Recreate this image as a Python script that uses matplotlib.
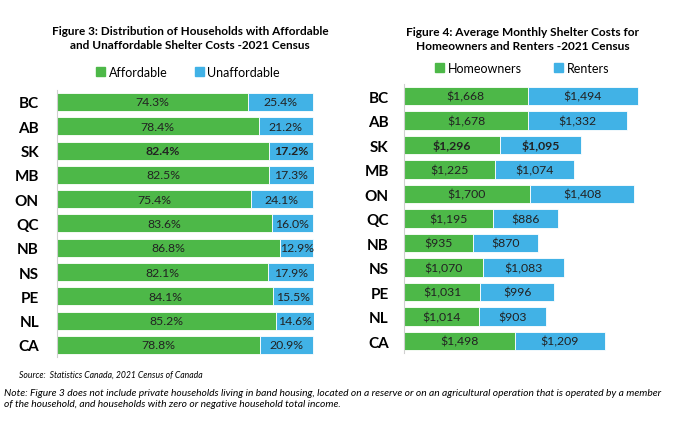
import matplotlib.pyplot as plt
from matplotlib.patches import Patch

plt.rcParams['font.family'] = ['Lato', 'DejaVu Sans']

# Data
regions = ['BC', 'AB', 'SK', 'MB', 'ON', 'QC', 'NB', 'NS', 'PE', 'NL', 'CA']
affordable = [74.3, 78.4, 82.4, 82.5, 75.4, 83.6, 86.8, 82.1, 84.1, 85.2, 78.8]
unaffordable = [25.4, 21.2, 17.2, 17.3, 24.1, 16.0, 12.9, 17.9, 15.5, 14.6, 20.9]
homeowners = [1668, 1678, 1296, 1225, 1700, 1195, 935, 1070, 1031, 1014, 1498]
renters = [1494, 1332, 1095, 1074, 1408, 886, 870, 1083, 996, 903, 1209]

green = '#4DB848'
blue = '#41B2E6'

fig = plt.figure(figsize=(6.91, 4.35), dpi=100)

# Figure 3
ax1 = fig.add_axes([0.0825, 0.1767, 0.372, 0.6145])
y = range(len(regions))
ax1.barh(y, affordable, height=0.74, color=green, edgecolor='white', linewidth=0.6)
ax1.barh(y, unaffordable, left=affordable, height=0.74, color=blue,
         edgecolor='white', linewidth=0.6)
for i in y:
    w = 'bold' if regions[i] == 'SK' else 'normal'
    ax1.text(affordable[i] / 2, i, f'{affordable[i]:.1f}%', ha='center', va='center',
             fontsize=8.8, fontweight=w, color='#222222')
    ax1.text(affordable[i] + unaffordable[i] / 2, i, f'{unaffordable[i]:.1f}%',
             ha='center', va='center', fontsize=8.8, fontweight=w, color='#222222')
ax1.set_xlim(0, 100)
ax1.set_ylim(10.5, -0.5)
ax1.set_yticks(list(y))
ax1.set_yticklabels(regions, fontsize=11, fontweight='bold')
ax1.tick_params(axis='y', length=0, pad=13)
ax1.set_xticks([])
for s in ['top', 'right', 'bottom']:
    ax1.spines[s].set_visible(False)
ax1.spines['left'].set_color('#d0d0d0')
ax1.spines['left'].set_linewidth(0.8)

fig.text(0.275, 0.912, 'Figure 3: Distribution of Households with Affordable\n'
         'and Unaffordable Shelter Costs -2021 Census', ha='center', va='center',
         fontsize=8.5, fontweight='bold', linespacing=1.3)
fig.legend(handles=[Patch(color=green, label='Affordable'), Patch(color=blue, label='Unaffordable')],
           loc='center', bbox_to_anchor=(0.272, 0.832), ncol=2, frameon=False, fontsize=9,
           handlelength=0.7, handleheight=0.7, handletextpad=0.3, columnspacing=2.2)

# Figure 4
ax2 = fig.add_axes([0.5847, 0.1856, 0.3754, 0.6195])
ax2.barh(y, homeowners, height=0.74, color=green, edgecolor='white', linewidth=0.6)
ax2.barh(y, renters, left=homeowners, height=0.74, color=blue,
         edgecolor='white', linewidth=0.6)
for i in y:
    w = 'bold' if regions[i] == 'SK' else 'normal'
    ax2.text(homeowners[i] / 2, i, f'${homeowners[i]:,}', ha='center', va='center',
             fontsize=8.8, fontweight=w, color='#222222')
    ax2.text(homeowners[i] + renters[i] / 2, i, f'${renters[i]:,}',
             ha='center', va='center', fontsize=8.8, fontweight=w, color='#222222')
ax2.set_xlim(0, 3500)
ax2.set_ylim(10.5, -0.5)
ax2.set_yticks(list(y))
ax2.set_yticklabels(regions, fontsize=11, fontweight='bold')
ax2.tick_params(axis='y', length=0, pad=11)
ax2.set_xticks([])
for s in ['top', 'right', 'bottom']:
    ax2.spines[s].set_visible(False)
ax2.spines['left'].set_color('#d0d0d0')
ax2.spines['left'].set_linewidth(0.8)

fig.text(0.756, 0.909, 'Figure 4: Average Monthly Shelter Costs for\n'
         'Homeowners and Renters -2021 Census', ha='center', va='center',
         fontsize=8.6, fontweight='bold', linespacing=1.3)
fig.legend(handles=[Patch(color=green, label='Homeowners'), Patch(color=blue, label='Renters')],
           loc='center', bbox_to_anchor=(0.756, 0.842), ncol=2, frameon=False, fontsize=9,
           handlelength=0.7, handleheight=0.7, handletextpad=0.3, columnspacing=2.6)

# Footnotes
fig.text(0.027, 0.138, 'Source:  Statistics Canada, 2021 Census of Canada', fontsize=6.2,
         style='italic', va='center')
fig.text(0.006, 0.083, 'Note: Figure 3 does not include private households living in band housing, '
         'located on a reserve or on an agricultural operation that is operated by a member\n'
         'of the household, and households with zero or negative household total income.',
         fontsize=7.4, style='italic', va='center', linespacing=1.35)

fig.savefig('out.png', dpi=100)
